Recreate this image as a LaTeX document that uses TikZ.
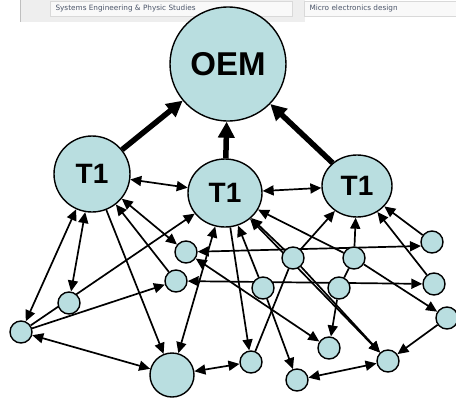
\documentclass[tikz,border=0pt]{standalone}
\usepackage{fontspec}
\setmainfont{Liberation Sans}
\newfontfamily\webfont{DejaVu Sans}
\usetikzlibrary{shapes.geometric,arrows.meta,backgrounds}
\definecolor{firmblue}{RGB}{185,222,224}
\definecolor{webtext}{RGB}{75,85,105}
\definecolor{webgray}{RGB}{238,238,238}

\begin{document}
\begin{tikzpicture}[x=1pt,y=-1pt,
  firm/.style={ellipse,draw,fill=firmblue,line width=1.4pt,inner sep=0pt},
  small/.style={firm,minimum size=22pt},
  tier/.style={firm,font=\bfseries\fontsize{28}{28}\selectfont},
  link/.style={line width=1.7pt,>={Triangle[length=11pt,width=10pt]}},
  supply/.style={line width=5.5pt,-{Triangle[length=16pt,width=16pt]}},
  weblabel/.style={anchor=west,text=webtext,font=\webfont\fontsize{7.3}{8}\selectfont}]
  \useasboundingbox (0,0) rectangle (456,397);

  % web page strip at the top
  \fill[webgray] (20,0) rectangle (305,22);
  \draw[gray!50,line width=0.8pt] (20,0) -- (20,22);
  \draw[gray!30,fill=gray!5] (50,1) rectangle (292,16);
  \draw[gray!30,fill=gray!5] (304,1) rectangle (457,16);
  \node[weblabel] (lab1) at (52,8.5) {Systems Engineering \& Physic Studies};
  \node[weblabel] (lab2) at (306,8.5) {Micro electronics design};

  % firms
  \node[tier,font=\bfseries\fontsize{33}{33}\selectfont,
        minimum width=116pt,minimum height=114pt] (oem) at (228,64) {OEM};
  \node[tier,minimum size=76pt] (t1a) at (92,174) {T1};
  \node[tier,minimum width=74pt,minimum height=68pt] (t1b) at (225,193) {T1};
  \node[tier,minimum width=70pt,minimum height=62pt] (t1c) at (357,186) {T1};

  \node[small] (n1)  at (186,252) {};
  \node[small] (n2)  at (176,281) {};
  \node[small] (n3)  at (69,303)  {};
  \node[small] (n4)  at (21,332)  {};
  \node[small,minimum size=44pt] (n5) at (172,375) {};
  \node[small] (n6)  at (293,258) {};
  \node[small] (n7)  at (354,258) {};
  \node[small] (n8)  at (263,288) {};
  \node[small] (n9)  at (339,288) {};
  \node[small] (n10) at (432,242) {};
  \node[small] (n11) at (434,284) {};
  \node[small] (n12) at (447,318) {};
  \node[small] (n13) at (329,348) {};
  \node[small] (n14) at (388,361) {};
  \node[small] (n15) at (251,362) {};
  \node[small] (n16) at (297,380) {};

  \begin{scope}[on background layer]
    \foreach \from/\to in {t1a/oem,t1b/oem,t1c/oem}
      \draw[supply] (\from) -- (\to);

    \foreach \from/\to in {t1a/t1b,t1b/t1c,n1/n10.200,n2/n11,t1a/n1,t1a/n3,t1a/n4,
                           n4/n5,n5/n15,n16/n14,t1b/n5,t1b/n14,n1/n13}
      \draw[link,<->] (\from) -- (\to);

    \foreach \from/\to in {n6/t1c,n6/t1b,n7/t1b,n7/t1c,n10/t1c,n11/t1c,n2/t1a,
                           t1a/n5,n4/t1b,n4/n2,t1b/n15,n8/t1b,n6/n14,n8/n16,
                           n9/n13,n7/n12,n12/n14}
      \draw[link,->] (\from) -- (\to);

    \foreach \from/\to in {n6/n15,n7/n9}
      \draw[link] (\from) -- (\to);
  \end{scope}
\end{tikzpicture}
\end{document}
